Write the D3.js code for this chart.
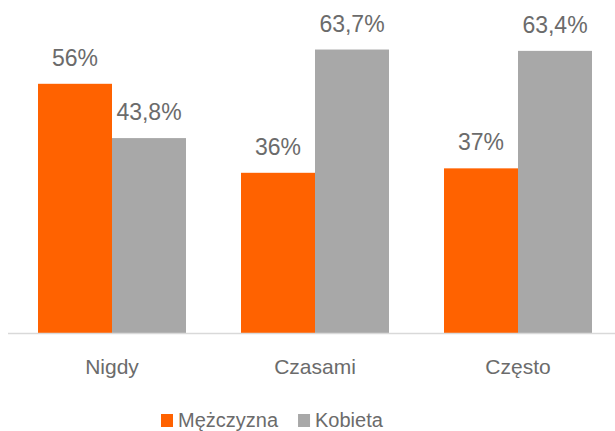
<!DOCTYPE html>
<html>
<head>
<meta charset="utf-8">
<script src="https://cdn.jsdelivr.net/npm/d3@7"></script>
<style>
  body { margin: 0; background: #fff; }
  text { font-family: "Liberation Sans", Arial, sans-serif; fill: #6b6b6b; }
</style>
</head>
<body>
<svg id="chart" width="615" height="431"></svg>
<script>
var categories = ["Nigdy", "Czasami", "Często"];
var series = ["Mężczyzna", "Kobieta"];
var men = [56, 36, 37];
var women = [43.8, 63.7, 63.4];
var colors = ["#ff6200", "#a8a8a8"];

var svg = d3.select("#chart"),
  baseY = 333,
  g = svg.append("g");

var x = d3.scaleBand().domain(categories).range([10.5, 619.5]).paddingInner(0.271).paddingOuter(0.1355);
var xs = d3.scaleBand().domain(series).range([0, x.bandwidth()]);
var y = d3.scaleLinear().domain([0, 70]).range([baseY, baseY - 4.45 * 70]);

var rows = categories.map(function(c, i){
  return {cat: c, vals: [{s: series[0], v: men[i]}, {s: series[1], v: women[i]}]};
});

function fmt(v){
  return (Number.isInteger(v) ? String(v) : v.toFixed(1).replace(".", ",")) + "%";
}

var groups = g.selectAll("g.grp")
  .data(rows)
  .enter()
  .append("g")
  .attr("class", "grp")
  .attr("transform", function(d){ return "translate(" + x(d.cat) + ",0)"; });

groups.selectAll("rect")
  .data(function(d){ return d.vals; })
  .enter()
  .append("rect")
  .attr("x", function(d){ return xs(d.s); })
  .attr("width", xs.bandwidth())
  .attr("y", function(d){ return y(d.v); })
  .attr("height", function(d){ return baseY - y(d.v); })
  .attr("fill", function(d, i){ return colors[i]; });

groups.selectAll("text.val")
  .data(function(d){ return d.vals; })
  .enter()
  .append("text")
  .attr("class", "val")
  .attr("x", function(d){ return xs(d.s) + xs.bandwidth() / 2; })
  .attr("y", function(d){ return y(d.v) - 18; })
  .attr("text-anchor", "middle")
  .style("font-size", "23px")
  .text(function(d){ return fmt(d.v); });

// baseline
g.append("line")
  .attr("x1", 8).attr("x2", 615)
  .attr("y1", baseY + 0.5).attr("y2", baseY + 0.5)
  .style("stroke", "#d9d9d9")
  .style("stroke-width", 1.5);

// category labels
g.selectAll("text.cat")
  .data(categories)
  .enter()
  .append("text")
  .attr("class", "cat")
  .attr("x", function(d){ return x(d) + x.bandwidth() / 2; })
  .attr("y", 374)
  .attr("text-anchor", "middle")
  .style("font-size", "21px")
  .text(function(d){ return d; });

// legend
var legend = svg.append("g");
var items = legend.selectAll("g")
  .data(series)
  .enter()
  .append("g");
items.append("rect")
  .attr("width", 12).attr("height", 13)
  .attr("y", 414)
  .attr("fill", function(d, i){ return colors[i]; });
items.append("text")
  .attr("x", 17)
  .attr("y", 427)
  .style("font-size", "20px")
  .text(function(d){ return d; });

var widths = [];
items.each(function(){ widths.push(17 + d3.select(this).select("text").node().getComputedTextLength()); });
var gap = 20,
  lx = 161;
items.attr("transform", function(d, i){
  var pos = lx;
  lx += widths[i] + gap;
  return "translate(" + pos + ",0)";
});
</script>
</body>
</html>
